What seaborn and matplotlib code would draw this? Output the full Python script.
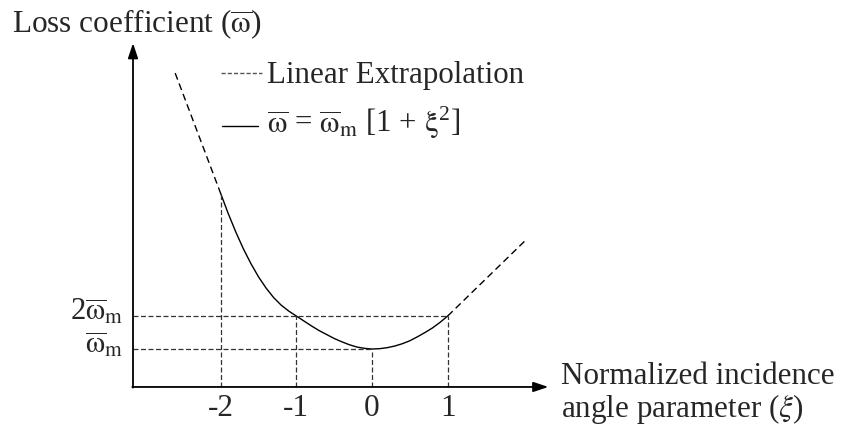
import numpy as np
import pandas as pd
import matplotlib
matplotlib.use("Agg")
import matplotlib.pyplot as plt
import seaborn as sns

# Loss-coefficient curve (in units of the minimum loss), sampled along xi
xi_curve = [-2.0, -1.9, -1.8, -1.7, -1.6, -1.5, -1.4, -1.3, -1.2, -1.1, -1.0,
            -0.9, -0.8, -0.7, -0.6, -0.5, -0.4, -0.3, -0.2, -0.1, 0.0,
            0.1, 0.2, 0.3, 0.4, 0.5, 0.6, 0.7, 0.8, 0.9, 1.0]
omega_curve = [5.72, 5.11, 4.55, 4.04, 3.59, 3.19, 2.85, 2.56, 2.33, 2.15, 2.00,
               1.85, 1.70, 1.56, 1.44, 1.32, 1.22, 1.13, 1.06, 1.02, 1.00,
               1.01, 1.04, 1.09, 1.16, 1.25, 1.37, 1.50, 1.64, 1.81, 2.00]

# Straight-line extrapolations beyond the parabolic range
xi_extra_left = [-2.60, -2.0]
omega_extra_left = [9.36, 5.72]
xi_extra_right = [1.0, 2.04]
omega_extra_right = [2.0, 4.32]

# Tick positions and labels
x_ticks = [-2, -1, 0, 1]
x_tick_labels = ["-2", "-1", "0", "1"]
y_ticks = [1.0, 2.0]
y_tick_labels = [r"$\overline{\mathrm{\omega}}_\mathrm{m}$",
                 r"2$\overline{\mathrm{\omega}}_\mathrm{m}$"]

# Axis extent (origin corner and arrow tips)
x_origin, y_origin = -3.157, -0.15
x_tip, y_tip = 2.33, 10.27

sns.set_theme(style="white")
plt.rcParams["font.family"] = ["Liberation Serif", "DejaVu Serif"]
plt.rcParams["mathtext.fontset"] = "stix"

fig = plt.figure(figsize=(8.44, 4.26), dpi=100)
ax = fig.add_axes([0, 0, 1, 1])
ax.set_xlim(-4.914, 6.235)
ax.set_ylim(-1.333, 11.576)
ax.axis("off")

# main curve
curve = pd.DataFrame({"xi": xi_curve, "omega": omega_curve})
sns.lineplot(data=curve, x="xi", y="omega", ax=ax, color="black", lw=1.0,
             estimator=None, sort=False)

# extrapolations
for xs, ys in [(xi_extra_left, omega_extra_left), (xi_extra_right, omega_extra_right)]:
    df = pd.DataFrame({"xi": xs, "omega": ys})
    sns.lineplot(data=df, x="xi", y="omega", ax=ax, color="black", lw=1.0,
                 estimator=None, sort=False, dashes=False, linestyle=(0, (5, 3)))

# guide lines down to the xi-axis
omega_at = dict(zip(xi_curve, omega_curve))
guide_style = dict(color="#333333", lw=0.9, linestyle=(0, (4, 2)))
for t in x_ticks:
    ax.plot([t, t], [y_origin, omega_at[float(t)]], **guide_style)
ax.plot([x_origin, 0.0], [1.0, 1.0], **guide_style)
ax.plot([x_origin, 1.0], [2.0, 2.0], **guide_style)

# axes with arrow heads
arrow = dict(arrowstyle="-|>,head_length=0.6,head_width=0.2", color="black",
             lw=1.3, shrinkA=0, shrinkB=0, mutation_scale=15)
ax.annotate("", xy=(x_tip, y_origin), xytext=(x_origin - 0.01, y_origin), arrowprops=arrow)
ax.annotate("", xy=(x_origin, y_tip), xytext=(x_origin, y_origin - 0.02), arrowprops=arrow)

fs = 22
# tick labels
for t, lab in zip(x_ticks, x_tick_labels):
    ax.text(t, -0.80, lab, ha="center", va="center", fontsize=fs + 0.5)
for v, lab in zip(y_ticks, y_tick_labels):
    ax.text(x_origin - 0.13, v + 0.12, lab, ha="right", va="center", fontsize=fs)

# axis titles
ax.text(-4.756, 10.6, r"Loss coefficient ($\overline{\mathrm{\omega}}$)", ha="left",
        va="baseline", fontsize=fs + 0.5)
ax.text(2.50, -0.06, "Normalized incidence", ha="left", va="baseline", fontsize=fs + 0.4)
ax.text(2.50, -1.06, r"angle parameter ($\xi$)", ha="left", va="baseline", fontsize=fs + 0.4)

# legend
ax.plot([-1.99, -1.45], [9.36, 9.36], color="#555555", lw=1.0, linestyle=(0, (3, 1.5)))
ax.text(-1.39, 9.06, "Linear Extrapolation", ha="left", va="baseline", fontsize=fs + 0.3)
ax.plot([-1.98, -1.50], [7.76, 7.76], color="black", lw=1.0)
ax.text(-1.39, 7.58,
        r"$\overline{\mathrm{\omega}}$ = $\overline{\mathrm{\omega}}_\mathrm{m}$ [1 + $\mathrm{\xi}^{\mathregular{2}}$]",
        ha="left", va="baseline", fontsize=fs + 0.3)

fig.savefig("out.png", dpi=100)
